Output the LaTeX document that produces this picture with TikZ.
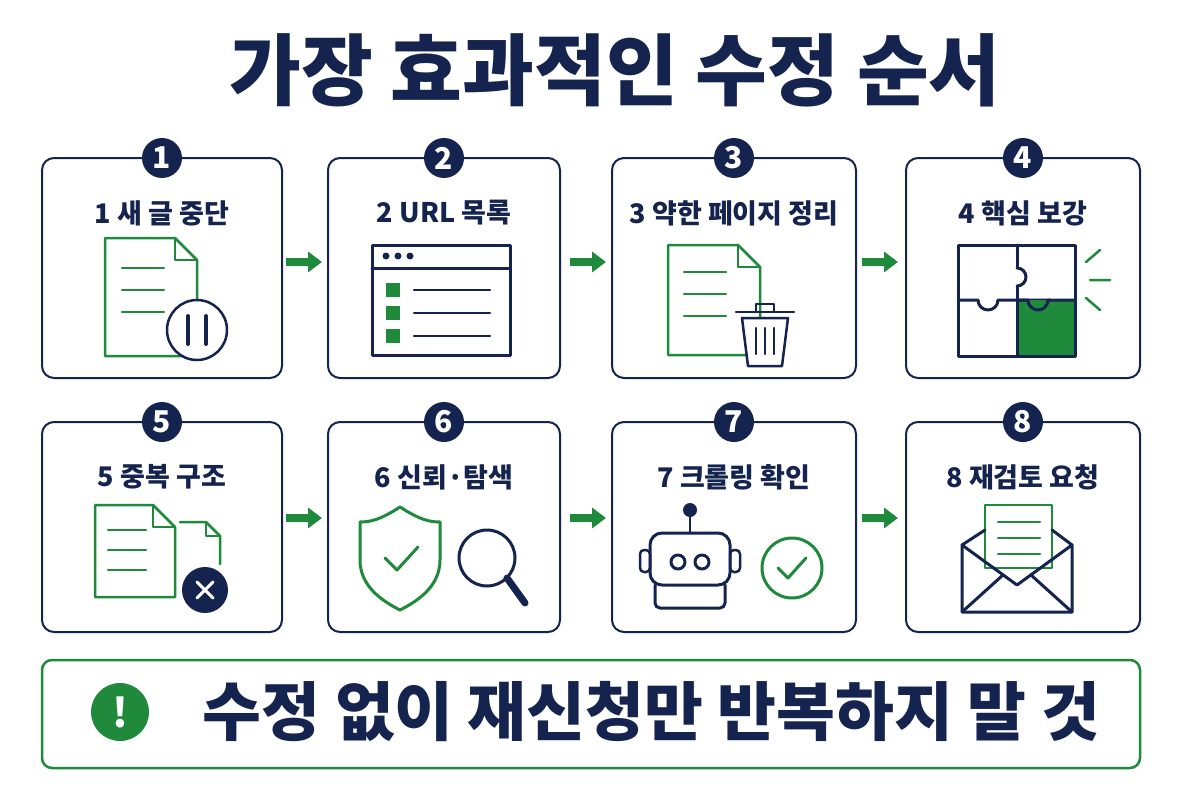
\documentclass[tikz,border=0pt]{standalone}
\usepackage{fontspec}
\setmainfont{Noto Sans CJK KR}
\usetikzlibrary{positioning,arrows.meta}
\definecolor{navy}{HTML}{14244F}
\definecolor{leaf}{HTML}{1F8A3B}
\tikzset{
  card/.style={draw=navy, line width=2pt, rounded corners=12pt, fill=white},
  badge/.style={circle, fill=navy, text=white, minimum size=40pt, inner sep=0pt, font=\bfseries\fontsize{30}{30}\selectfont},
  steplabel/.style={text=navy, font=\bfseries\fontsize{27}{27}\selectfont},
  gline/.style={draw=leaf, line width=2.5pt, line join=round, line cap=round},
  nline/.style={draw=navy, line width=2.5pt, line join=round, line cap=round},
  flow/.style={-{Triangle[length=14pt,width=20pt]}, leaf, line width=8pt},
}
\newcommand{\docicon}[4]{% x, y, w, h
  \draw[gline, fill=white] (#1,#2) -- ++(#3-22,0) -- ++(22,22) -- ++(0,#4-22) -- ++(-#3,0) -- cycle;
  \draw[gline] (#1+#3-22,#2) -- ++(0,22) -- ++(22,0);
}
\begin{document}
\begin{tikzpicture}[x=1pt,y=-1pt]
\useasboundingbox (0,0) rectangle (1200,800);
%\draw[step=100,gray,very thin] (0,0) grid (1200,800);

\node[text=navy, font=\bfseries\fontsize{78}{78}\selectfont] (title) at (615,70) {가장 효과적인 수정 순서};

% cards
\foreach \n/\xa/\xb/\ya/\yb/\txt in {1/42/282/158/378/1 새 글 중단, 2/328/560/158/378/2 URL 목록, 3/612/856/158/378/3 약한 페이지 정리, 4/906/1140/158/378/4 핵심 보강, 5/42/282/422/632/5 중복 구조, 6/328/560/422/632/6 신뢰·탐색, 7/612/856/422/632/7 크롤링 확인, 8/906/1140/422/632/8 재검토 요청}{
  \draw[card] (\xa,\ya) rectangle (\xb,\yb);
  \node[badge] (b\n) at ({(\xa+\xb)/2},\ya) {\n};
  \node[steplabel] (s\n) at ({(\xa+\xb)/2},\ya+55) {\txt};
}

% arrows
\foreach \y in {262,518}{
  \foreach \x in {286,570,862}{
    \coordinate (fa) at (\x,\y);
    \coordinate (fb) at (\x+36,\y);
    \draw[flow] (fa) -- (fb);
  }
}

% 1 new posts stopped
\docicon{105}{238}{92}{118}
\foreach \y in {268,290,312}{\draw[gline] (122,\y) -- ++(42,0);}
\draw[nline, fill=white] (197,330) circle (30);
\draw[nline, line width=4pt] (188,316) -- (188,344) (206,316) -- (206,344);

% 2 URL list
\draw[nline, line width=3pt] (372,245) rectangle (510,355);
\draw[nline, line width=3pt] (372,268) -- (510,268);
\foreach \x in {386,398,410}{\fill[navy] (\x,256) circle (3.5);}
\foreach \y in {290,313,336}{
  \fill[leaf] (386,\y-7) rectangle ++(14,14);
  \draw[nline] (414,\y) -- (490,\y);
}

% 3 weak pages
\docicon{668}{245}{92}{110}
\foreach \y in {272,294,316}{\draw[gline] (684,\y) -- ++(42,0);}
\draw[nline, fill=white] (742,318) -- (788,318) -- (782,366) -- (748,366) -- cycle;
\draw[nline] (736,312) -- (794,312) (756,312) -- (756,304) -- (774,304) -- (774,312);
\foreach \x in {756,765,774}{\draw[nline] (\x,328) -- (\x,354);}

% 4 puzzle
\fill[leaf] (1017,300) rectangle (1075,356);
\draw[nline, line width=3pt] (958,245) rectangle (1075,356);
\draw[nline, line width=3pt] (1017,245) -- (1017,268);
\draw[nline, line width=3pt] (1017,286) -- (1017,356);
\draw[nline, line width=3pt] (958,300) -- (978,300) arc (180:0:10) -- (1017,300) -- (1075,300);
\draw[nline, line width=3pt, fill=leaf] (1017,300) -- (1028,300) arc (180:0:10) -- (1050,300);
\draw[nline, line width=3pt, fill=white] (1017,268) arc (-90:90:9);
\draw[gline] (1086,262) -- (1100,250) (1090,280) -- (1110,280) (1086,298) -- (1100,310);

% 5 duplicates
\docicon{95}{505}{80}{92}
\foreach \y in {530,550,570}{\draw[gline] (108,\y) -- ++(38,0);}
\draw[gline] (180,522) -- ++(26,0) -- ++(14,14) -- ++(0,28);
\draw[gline] (206,522) -- ++(0,14) -- ++(14,0);
\fill[navy] (205,590) circle (23);
\draw[draw=white, line width=3pt, line cap=round] (197,582) -- (213,598) (213,582) -- (197,598);

% 6 trust & search
\draw[gline, line width=3pt] (400,507) .. controls (380,520) and (370,522) .. (360,522) -- (360,560) .. controls (360,585) and (380,600) .. (400,610) .. controls (420,600) and (440,585) .. (440,560) -- (440,522) .. controls (430,522) and (420,520) .. (400,507) -- cycle;
\draw[gline, line width=3pt] (385,558) -- (397,570) -- (418,547);
\draw[nline, line width=3pt] (487,558) circle (28);
\draw[nline, line width=7pt] (507,578) -- (525,603);

% 7 crawl check
\draw[nline] (690,533) -- (690,514);
\fill[navy] (690,510) circle (7);
\draw[nline, rounded corners=12pt, line width=3pt] (650,533) rectangle (730,585);
\draw[nline, line width=3pt] (678,562) circle (7) (702,562) circle (7);
\draw[nline, rounded corners=4pt] (640,550) rectangle (650,572) (730,550) rectangle (740,572);
\draw[nline, rounded corners=5pt, line width=3pt] (655,585) -- (655,608) -- (725,608) -- (725,585);
\draw[gline, line width=3pt] (792,568) circle (30);
\draw[gline, line width=3pt] (778,568) -- (788,578) -- (806,558);

% 8 review request
\draw[gline, fill=white] (985,505) rectangle (1052,568);
\foreach \y in {522,538,554}{\draw[gline] (998,\y) -- (1040,\y);}
\draw[nline, line width=3pt] (985,530) -- (962,545) -- (962,612) -- (1072,612) -- (1072,545) -- (1052,530);
\draw[nline, line width=3pt] (962,545) -- (1017,585) -- (1072,545);
\draw[nline, line width=3pt] (962,612) -- (1003,575) (1072,612) -- (1031,575);

% bottom warning
\draw[draw=leaf, line width=2.5pt, rounded corners=10pt] (42,660) rectangle (1140,768);
\node[circle, fill=leaf, text=white, minimum size=58pt, inner sep=0pt, font=\bfseries\fontsize{40}{40}\selectfont] (warn) at (120,712) {!};
\node[text=navy, font=\bfseries\fontsize{64}{64}\selectfont, right=50pt of warn] (note) {수정 없이 재신청만 반복하지 말 것};
\end{tikzpicture}
\end{document}
